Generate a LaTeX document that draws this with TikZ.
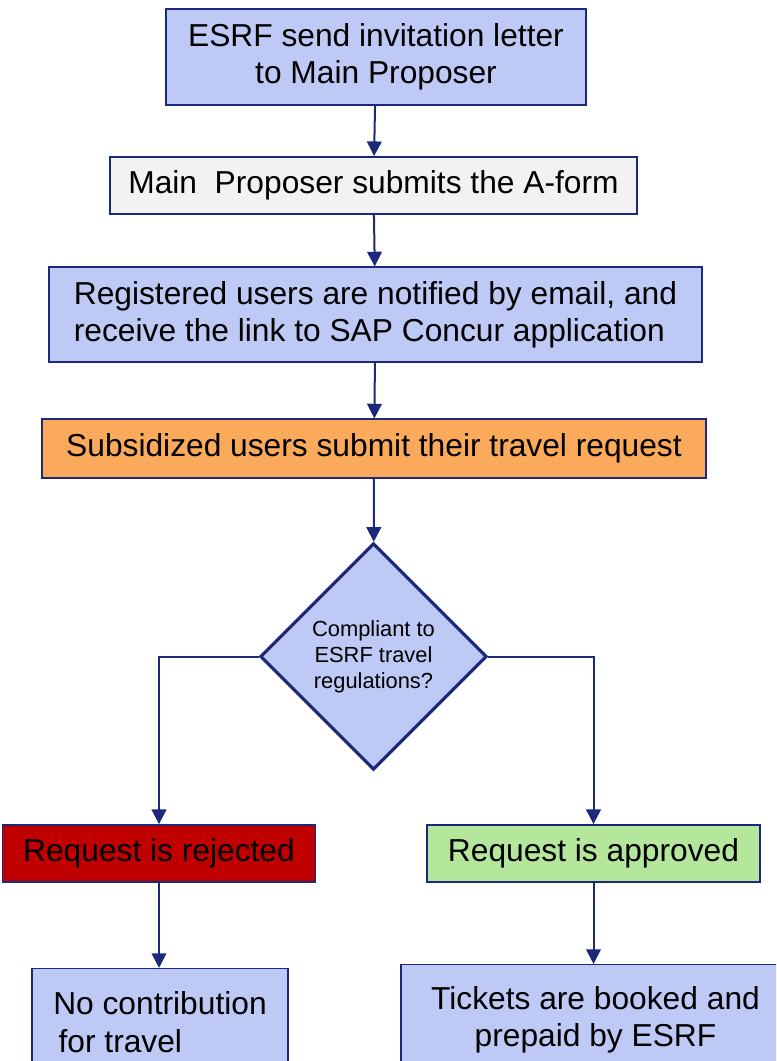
\documentclass[tikz,border=0pt]{standalone}
\usepackage{fontspec}
\setmainfont{Liberation Sans}
\usetikzlibrary{shapes.geometric,arrows.meta}

\definecolor{boxblue}{RGB}{191,201,245}
\definecolor{boxgrey}{RGB}{242,242,242}
\definecolor{boxorange}{RGB}{250,170,90}
\definecolor{boxred}{RGB}{192,0,0}
\definecolor{boxgreen}{RGB}{180,230,155}
\definecolor{navy}{RGB}{28,40,122}

\tikzset{
  flowbox/.style={draw=navy,line width=1.1pt,inner sep=0pt,
    font=\fontsize{23.8}{28}\selectfont,align=center},
  flowarrow/.style={draw=navy,line width=1.5pt,
    -{Triangle[width=11pt,length=11pt]}}
}

\begin{document}
\begin{tikzpicture}[x=0.75pt,y=0.75pt,yscale=-1,xscale=1]
\useasboundingbox (0,0) rectangle (776,1061);
\clip (0,0) rectangle (776,1061);

% Boxes
\node [flowbox,fill=boxblue,minimum width=315pt,minimum height=72pt] (invite) at (376,57)
  {ESRF send invitation letter\\to Main Proposer};
\node [flowbox,fill=boxgrey,minimum width=395pt,minimum height=43pt] (aform) at (373.5,185.5)
  {Main\ \ Proposer submits the A-form};
\node [flowbox,fill=boxblue,minimum width=490pt,minimum height=71pt,align=left] (notify) at (375.5,314.5)
  {Registered users are notified by email, and\\receive the link to SAP Concur application};
\node [flowbox,fill=boxorange,minimum width=498pt,minimum height=44pt] (travel) at (374,448.5)
  {Subsidized users submit their travel request};
% Decision
\node [draw=navy,line width=2.4pt,fill=boxblue,diamond,aspect=1,inner sep=0pt,
  minimum width=170pt,minimum height=170pt,align=center,
  font=\fontsize{16.4}{19.5}\selectfont] (check) at (373.5,656.5)
  {Compliant to\\ESRF travel\\regulations?};
% Outcomes
\node [flowbox,fill=boxred,minimum width=235pt,minimum height=43pt] (reject) at (159,853.5)
  {Request is rejected};
\node [flowbox,fill=boxgreen,minimum width=250pt,minimum height=43pt] (approve) at (593.5,853.5)
  {Request is approved};
\node [flowbox,fill=boxblue,minimum width=192pt,minimum height=80pt,align=left] (nocontrib) at (160,1022)
  {No contribution\\\hspace{4pt}for travel};
\node [flowbox,fill=boxblue,minimum width=292pt,minimum height=83pt] (tickets) at (595.5,1020)
  {Tickets are booked and\\prepaid by ESRF};

% Connectors
\draw [flowarrow] (invite) -- (aform);
\draw [flowarrow] (aform) -- (notify);
\draw [flowarrow] (notify) -- (travel);
\draw [flowarrow] (travel) -- (check);
\draw [flowarrow] (check.west) -| (reject.north);
\draw [flowarrow] (check.east) -| (approve.north);
\draw [flowarrow] (reject) -- (reject |- nocontrib.north);
\draw [flowarrow] (approve) -- (approve |- tickets.north);
\end{tikzpicture}
\end{document}
